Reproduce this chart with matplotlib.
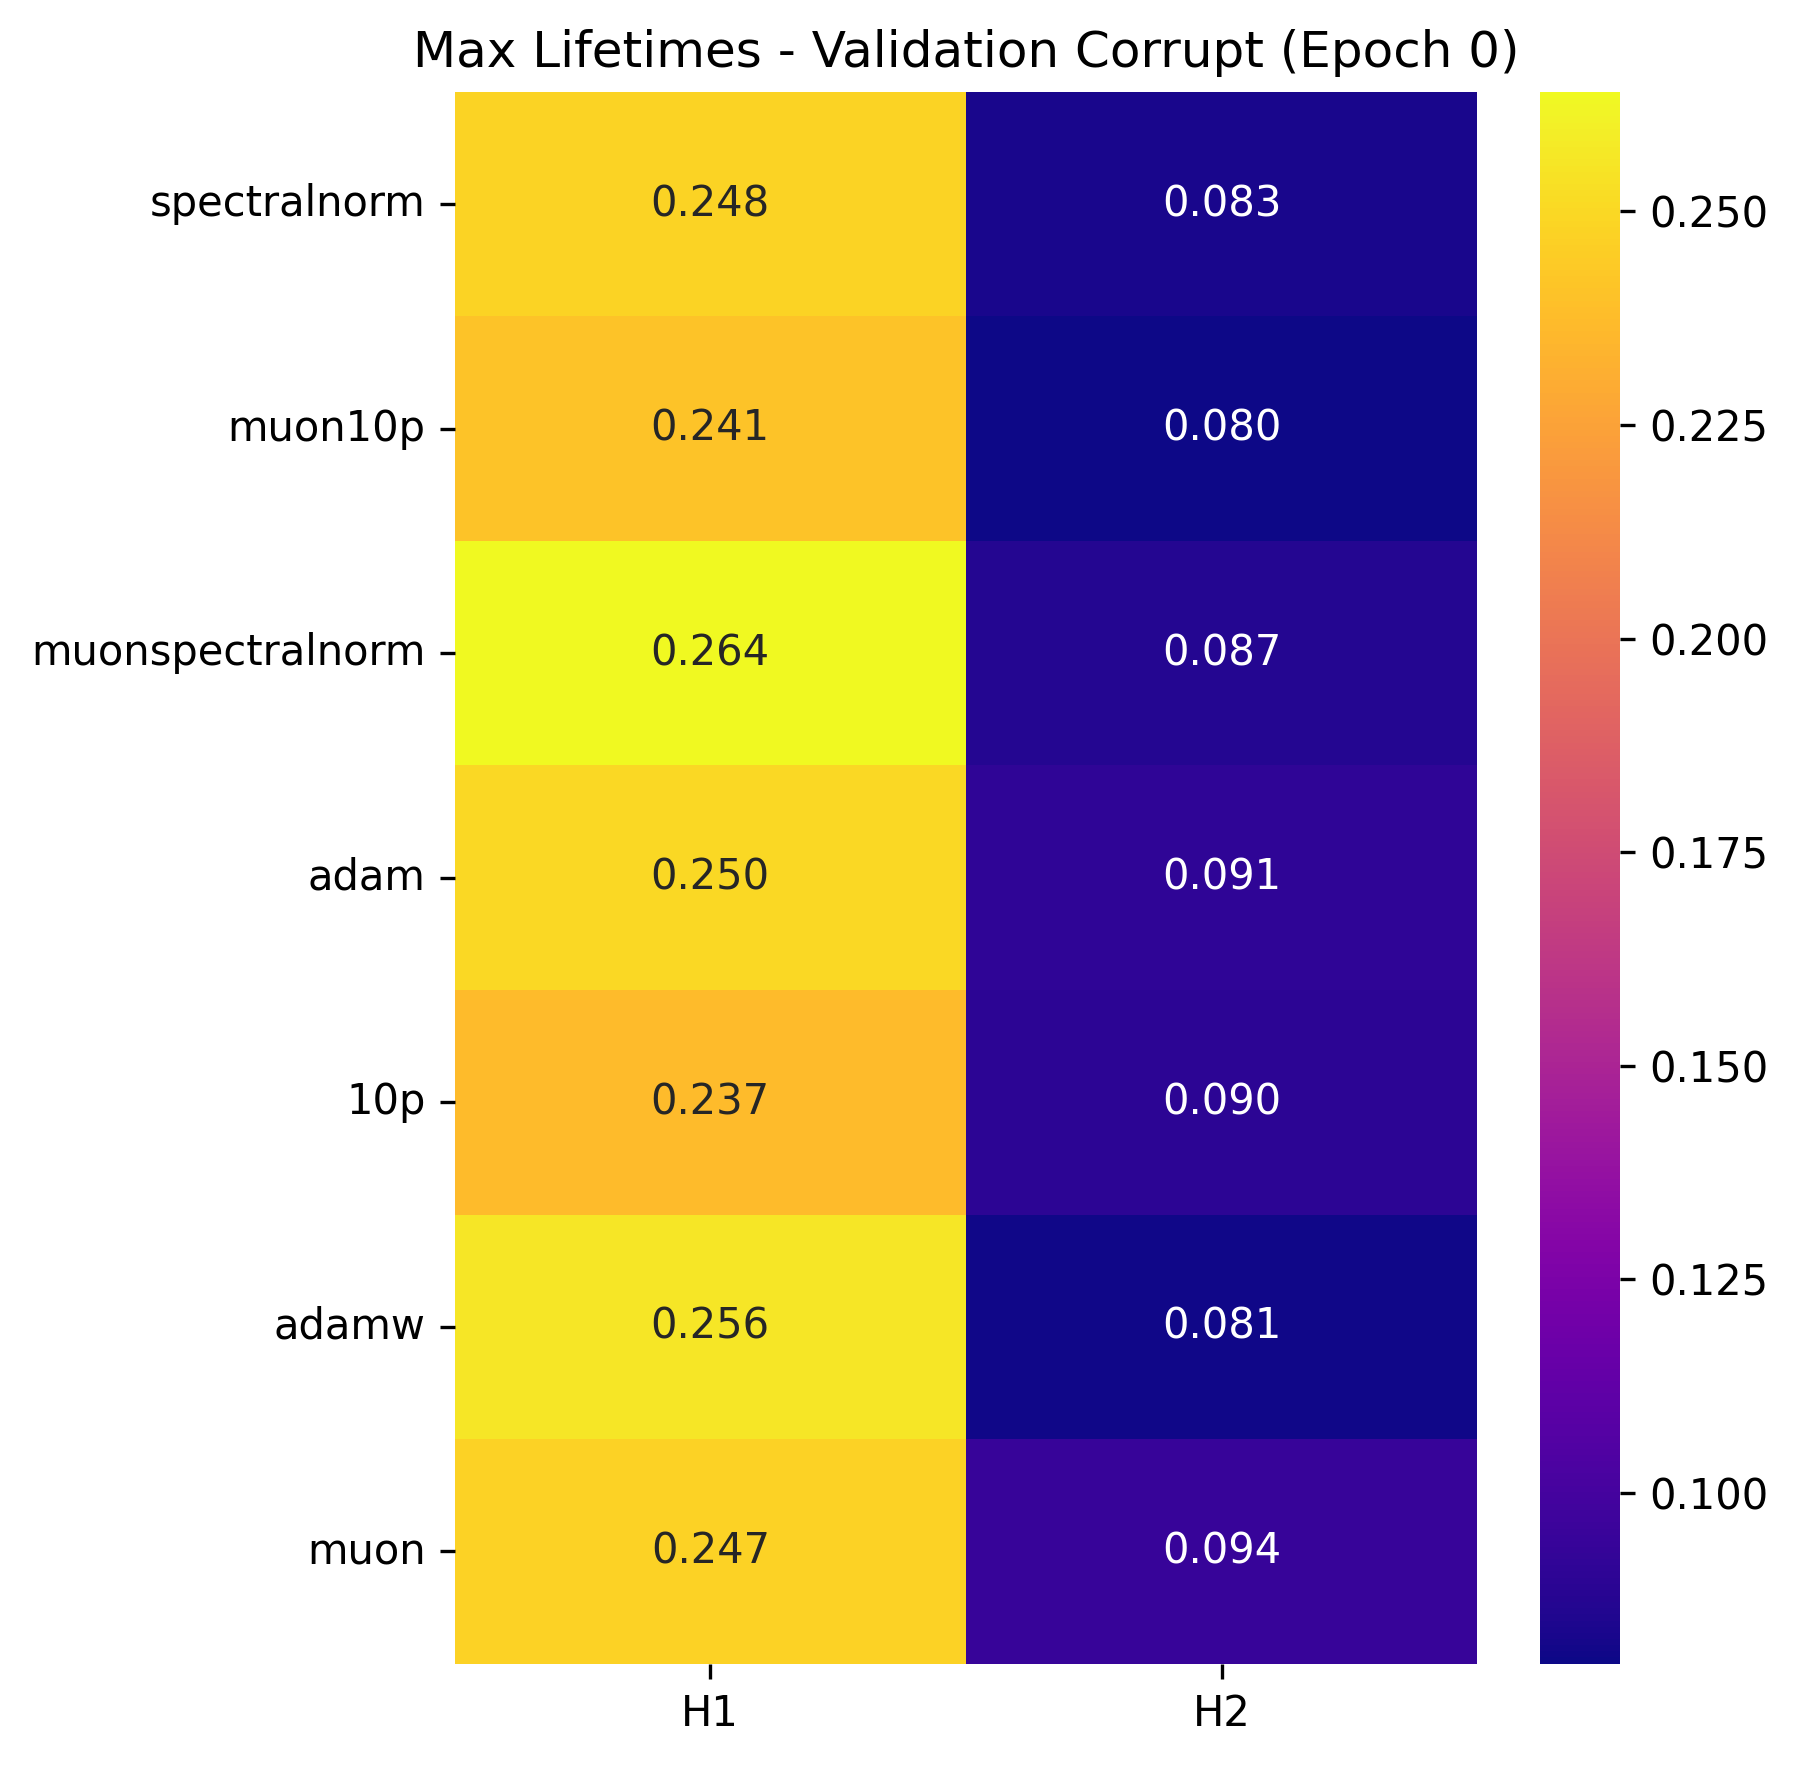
import numpy as np
import matplotlib
matplotlib.use("Agg")
import matplotlib.pyplot as plt
import seaborn as sns

optimizers = ['spectralnorm', 'muon10p', 'muonspectralnorm', 'adam', '10p', 'adamw', 'muon']
columns = ['H1', 'H2']
h1 = [0.248, 0.241, 0.264, 0.250, 0.237, 0.256, 0.247]
h2 = [0.083, 0.080, 0.087, 0.091, 0.090, 0.081, 0.094]

data = np.array([h1, h2]).T

fig = plt.figure(figsize=(1797/300, 1766/300), dpi=300)
ax = fig.add_axes([0.253, 0.058, 0.569, 0.890])
cax = fig.add_axes([0.857, 0.058, 0.0447, 0.890])

sns.heatmap(data, ax=ax, cbar_ax=cax, cmap='plasma', annot=True, fmt='.3f',
            xticklabels=columns, yticklabels=optimizers,
            annot_kws={'fontsize': 10})
ax.set_title('Max Lifetimes - Validation Corrupt (Epoch 0)', fontsize=12)
ax.tick_params(labelsize=10)
plt.setp(ax.get_yticklabels(), rotation=0)
cax.tick_params(labelsize=10)

fig.savefig('out.png', dpi=300)
